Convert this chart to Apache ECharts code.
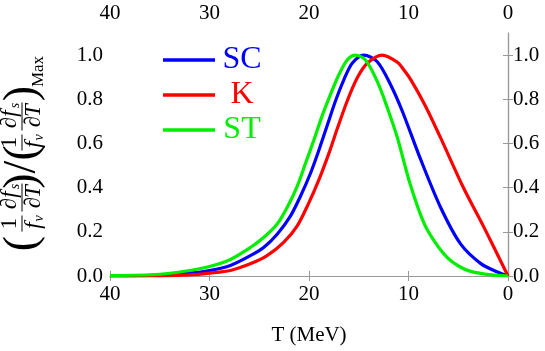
<!DOCTYPE html>
<html>
<head>
<meta charset="utf-8">
<script src="https://cdn.jsdelivr.net/npm/echarts@6/dist/echarts.min.js"></script>
<style>
  html, body { margin: 0; padding: 0; background: #fff; }
  #chart { width: 545px; height: 351px; }
</style>
</head>
<body>
<div id="chart"></div>
<script>
// values (T in MeV, normalised rate)
const scT = [40, 35, 32, 30, 27.9, 25.9, 24.56, 23.2, 21.87, 20.87, 19.86, 19.02, 18.18, 17.34, 16.5, 15.66, 14.49, 13.14, 11.8, 10.63, 8.8, 6.77, 4.75, 2.7, 1.05, 0]
const scV = [0, 0.004, 0.013, 0.025, 0.048, 0.092, 0.129, 0.189, 0.271, 0.36, 0.464, 0.568, 0.68, 0.792, 0.888, 0.963, 1.0, 0.97, 0.866, 0.747, 0.53, 0.31, 0.144, 0.055, 0.018, 0]

const kT = [40, 35, 32, 30, 27.9, 25.9, 24.22, 22.55, 21.2, 20.03, 19.02, 18.01, 17.17, 16.16, 15.16, 14.15, 12.64, 11.13, 10.5, 9.79, 8.3, 6.77, 4.45, 2.4, 0]
const kV = [0, 0.001, 0.005, 0.013, 0.025, 0.055, 0.092, 0.152, 0.226, 0.33, 0.434, 0.554, 0.665, 0.792, 0.896, 0.963, 1.0, 0.968, 0.935, 0.89, 0.77, 0.625, 0.397, 0.219, 0]

const stT = [40, 35, 32, 30, 27.9, 25.9, 24.56, 23.2, 22.2, 21.2, 20.36, 19.53, 18.68, 17.85, 17.0, 16.16, 15.33, 14.32, 13.14, 12.13, 11.13, 9.86, 8.5, 7.44, 6.1, 4.9, 3.75, 1.7, 0]
const stV = [0.002, 0.008, 0.025, 0.043, 0.075, 0.129, 0.174, 0.235, 0.31, 0.405, 0.509, 0.613, 0.725, 0.821, 0.911, 0.978, 1.0, 0.978, 0.881, 0.762, 0.628, 0.42, 0.245, 0.16, 0.083, 0.043, 0.021, 0.005, 0]

const seriesNames = ['SC', 'K', 'ST']
const seriesColors = ['#0000ff', '#ff0000', '#00ee00']

const serif = 'Liberation Serif'

function zip(xs, ys) {
  return xs.map((x, i) => [x, ys[i]])
}

// y axis title: (1/f_v dfs/dT)/(1/f_v dfs/dT)_Max, built from text pieces
function piece(x, y, text, size, italic) {
  return {
    type: 'text', x: x, y: y,
    style: {
      text: text, fontSize: size, fontFamily: serif,
      fontStyle: italic ? 'italic' : 'normal', fill: '#000',
      align: 'center', verticalAlign: 'middle',
      textAlign: 'center', textVerticalAlign: 'middle'
    }
  }
}
function bar(cx, half) {
  return { type: 'line', shape: { x1: cx - half, y1: 0, x2: cx + half, y2: 0 }, style: { stroke: '#000', lineWidth: 1 } }
}
function oneOverFv(cx) {
  return [piece(cx, -12, '1', 23), bar(cx, 8), piece(cx - 2, 12, 'f', 23, true), piece(cx + 5, 17, 'v', 14, true)]
}
function dfsdT(cx) {
  return [
    piece(cx - 6, -12, '∂', 23), piece(cx + 3, -12, 'f', 23, true), piece(cx + 11, -7, 's', 14, true),
    bar(cx, 14),
    piece(cx - 5, 12, '∂', 23), piece(cx + 6, 12, 'T', 23, true)
  ]
}
const yTitle = [].concat(
  [piece(-89, 1, '(', 46)],
  oneOverFv(-69),
  dfsdT(-43),
  [piece(-12.5, 1, ')/(', 46)],
  oneOverFv(12),
  dfsdT(38),
  [piece(61, 1, ')', 46), piece(83, 17, 'Max', 17)]
)

const chart = echarts.init(document.getElementById('chart'))

const labelStyle = { color: '#000', fontFamily: serif, fontSize: 21 }
const axisLine = { show: true, lineStyle: { color: '#999', width: 1.2 } }
const axisTick = { show: true, inside: true, length: 5, lineStyle: { color: '#999' } }

const xBase = {
  type: 'value', min: 0, max: 40, interval: 10, inverse: true,
  axisLine: axisLine, axisTick: axisTick, splitLine: { show: false }
}
const yBase = {
  type: 'value', min: 0, max: 1.1, interval: 0.2,
  axisLine: axisLine, axisTick: axisTick, splitLine: { show: false }
}

chart.setOption({
  animation: false,
  grid: { left: 110, right: 37, top: 33, bottom: 72 },
  legend: {
    orient: 'vertical', left: 158, top: 39,
    icon: 'rect', itemWidth: 52, itemHeight: 3.5, itemGap: 3,
    textStyle: { fontFamily: serif, fontSize: 32, lineHeight: 30 },
    formatter: name => '{a|' + name + '}',
    data: seriesNames.map((n, i) => ({
      name: n,
      textStyle: { color: seriesColors[i], rich: { a: { width: 44, align: 'center', color: seriesColors[i], fontSize: 32, fontFamily: serif } } }
    }))
  },
  xAxis: [
    Object.assign({}, xBase, {
      position: 'bottom',
      name: 'T (MeV)', nameLocation: 'middle', nameGap: 49,
      nameTextStyle: { color: '#000', fontFamily: serif, fontSize: 21 },
      axisLabel: Object.assign({ margin: 8 }, labelStyle)
    }),
    Object.assign({}, xBase, {
      position: 'top',
      axisLabel: Object.assign({ margin: 9 }, labelStyle)
    })
  ],
  yAxis: [
    Object.assign({}, yBase, {
      position: 'left',
      axisLabel: Object.assign({ margin: 7, showMaxLabel: false, formatter: v => v.toFixed(1) }, labelStyle)
    }),
    Object.assign({}, yBase, {
      position: 'right',
      axisLabel: Object.assign({ margin: 5, showMaxLabel: false, formatter: v => v.toFixed(1) }, labelStyle)
    })
  ],
  graphic: [{
    type: 'group', x: 22, y: 154.5, rotation: Math.PI / 2,
    children: yTitle
  }],
  series: [
    { name: 'SC', data: zip(scT, scV) },
    { name: 'K', data: zip(kT, kV) },
    { name: 'ST', data: zip(stT, stV) }
  ].map((s, i) => ({
    name: s.name, type: 'line', data: s.data,
    xAxisIndex: 0, yAxisIndex: 0,
    smooth: 0.3, showSymbol: false, symbol: 'none',
    lineStyle: { color: seriesColors[i], width: 3.2 },
    itemStyle: { color: seriesColors[i] }
  }))
})
</script>
</body>
</html>
